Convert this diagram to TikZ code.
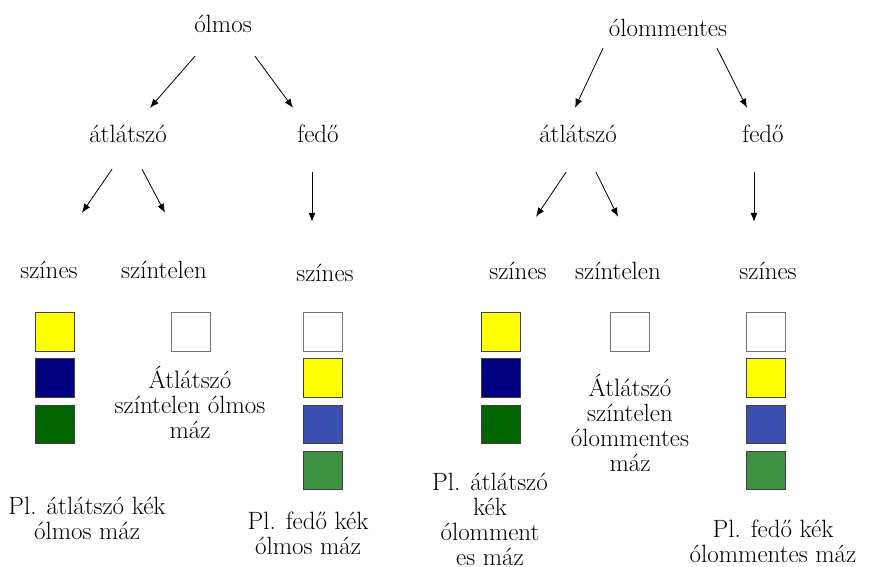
\documentclass[tikz,border=0pt]{standalone}
\usepackage{fontspec}
\usepackage{xcolor}
\usepackage{tikz}
\usetikzlibrary{arrows.meta}
\usetikzlibrary{positioning}
\definecolor{glazeyellow}{RGB}{255,255,0}
\definecolor{glazenavy}{RGB}{0,0,128}
\definecolor{glazedgreen}{RGB}{0,100,0}
\definecolor{glazeblue}{RGB}{58,79,176}
\definecolor{glazegreen}{RGB}{61,145,64}
\tikzset{
    wnode/.style = {align=center, inner sep=0pt, text centered, font=\fontsize{25pt}{25pt}\selectfont},
    word/.style = {wnode, anchor=base, text height=18pt, text depth=6pt},
    note/.style = {wnode},
    sq/.style = {rectangle, inner sep=0pt, minimum width=38.5pt, minimum height=38.5pt, line width=0.8pt},
    yellow_sq/.style = {sq, draw=black!75, fill=glazeyellow},
    navy_sq/.style = {sq, draw=black!75, fill=glazenavy},
    dgreen_sq/.style = {sq, draw=black!75, fill=glazedgreen},
    blue_sq/.style = {sq, draw=black!75, fill=glazeblue},
    green_sq/.style = {sq, draw=black!75, fill=glazegreen},
    white_sq/.style = {sq, draw=black!55, fill=white},
    arr/.style = {-{Latex[length=9pt,width=7pt]}, line width=0.8pt}
}
\begin{document}
\begin{tikzpicture}[x=1pt, y=-1pt, node distance=6.8pt]
    \useasboundingbox (0,0) rectangle (869,566);

    % olmos
    \node [word] (olmos) at (223,32) {ólmos};
    \node [word] (atlL)  at (128,142) {átlátszó};
    \node [word] (fedoL) at (318,142) {fedő};
    \node [word] (szinesL) at (49,278) {színes};
    \node [word] (szintL)  at (164,278) {színtelen};
    \node [word] (szinesF) at (325,281) {színes};

    \draw [arr] ([xshift=-28pt,yshift=-18pt]olmos.south) -- ([xshift=22pt,yshift=16pt]atlL.north);
    \draw [arr] ([xshift=32pt,yshift=-18pt]olmos.south) -- ([xshift=-25pt,yshift=16pt]fedoL.north);
    \draw [arr] ([xshift=-16pt,yshift=-21pt]atlL.south) -- ([xshift=33pt,yshift=47pt]szinesL.north);
    \draw [arr] ([xshift=14pt,yshift=-21pt]atlL.south) -- ([xshift=1pt,yshift=47pt]szintL.north);
    \draw [arr] ([xshift=-6pt,yshift=-24pt]fedoL.south) -- ([xshift=-13pt,yshift=41pt]szinesF.north);

    \node [yellow_sq] (aL1) at (55,332) {};
    \node [navy_sq, below=of aL1] (aL2) {};
    \node [dgreen_sq, below=of aL2] (aL3) {};
    \node [white_sq] (tL1) at (191,332) {};
    \node [white_sq] (fL1) at (323,332) {};
    \node [yellow_sq, below=of fL1] (fL2) {};
    \node [blue_sq, below=of fL2] (fL3) {};
    \node [green_sq, below=of fL3] (fL4) {};

    \node [note] (tLtxt) at (190,402) {Átlátszó\\színtelen ólmos\\máz};
    \node [note] (aLtxt) at (87,518) {Pl. átlátszó kék\\ólmos máz};
    \node [note] (fLtxt) at (308,533) {Pl. fedő kék\\ólmos máz};

    % olommentes
    \node [word] (olom)  at (668,36) {ólommentes};
    \node [word] (atlR)  at (578,142) {átlátszó};
    \node [word] (fedoR) at (763,142) {fedő};
    \node [word] (szinesR)  at (518,279) {színes};
    \node [word] (szintR)   at (618,279) {színtelen};
    \node [word] (szinesR2) at (768,279) {színes};

    \draw [arr] ([xshift=-65pt,yshift=-6pt]olom.south) -- ([xshift=-3pt,yshift=16pt]atlR.north);
    \draw [arr] ([xshift=49pt,yshift=-6pt]olom.south) -- ([xshift=-16pt,yshift=16pt]fedoR.north);
    \draw [arr] ([xshift=-12pt,yshift=-24pt]atlR.south) -- ([xshift=18pt,yshift=44pt]szinesR.north);
    \draw [arr] ([xshift=18pt,yshift=-24pt]atlR.south) -- ([yshift=44pt]szintR.north);
    \draw [arr] ([xshift=-9pt,yshift=-24pt]fedoR.south) -- ([xshift=-14pt,yshift=39pt]szinesR2.north);

    \node [yellow_sq] (aR1) at (501,332) {};
    \node [navy_sq, below=of aR1] (aR2) {};
    \node [dgreen_sq, below=of aR2] (aR3) {};
    \node [white_sq] (tR1) at (630,332) {};
    \node [white_sq] (fR1) at (766,332) {};
    \node [yellow_sq, below=of fR1] (fR2) {};
    \node [blue_sq, below=of fR2] (fR3) {};
    \node [green_sq, below=of fR3] (fR4) {};

    \node [note] (tRtxt) at (630,423) {Átlátszó\\színtelen\\ólommentes\\máz};
    \node [note] (aRtxt) at (490,519) {Pl. átlátszó\\kék\\ólomment\\es máz};
    \node [note] (fRtxt) at (773,541) {Pl. fedő kék\\ólommentes máz};
\end{tikzpicture}
\end{document}
